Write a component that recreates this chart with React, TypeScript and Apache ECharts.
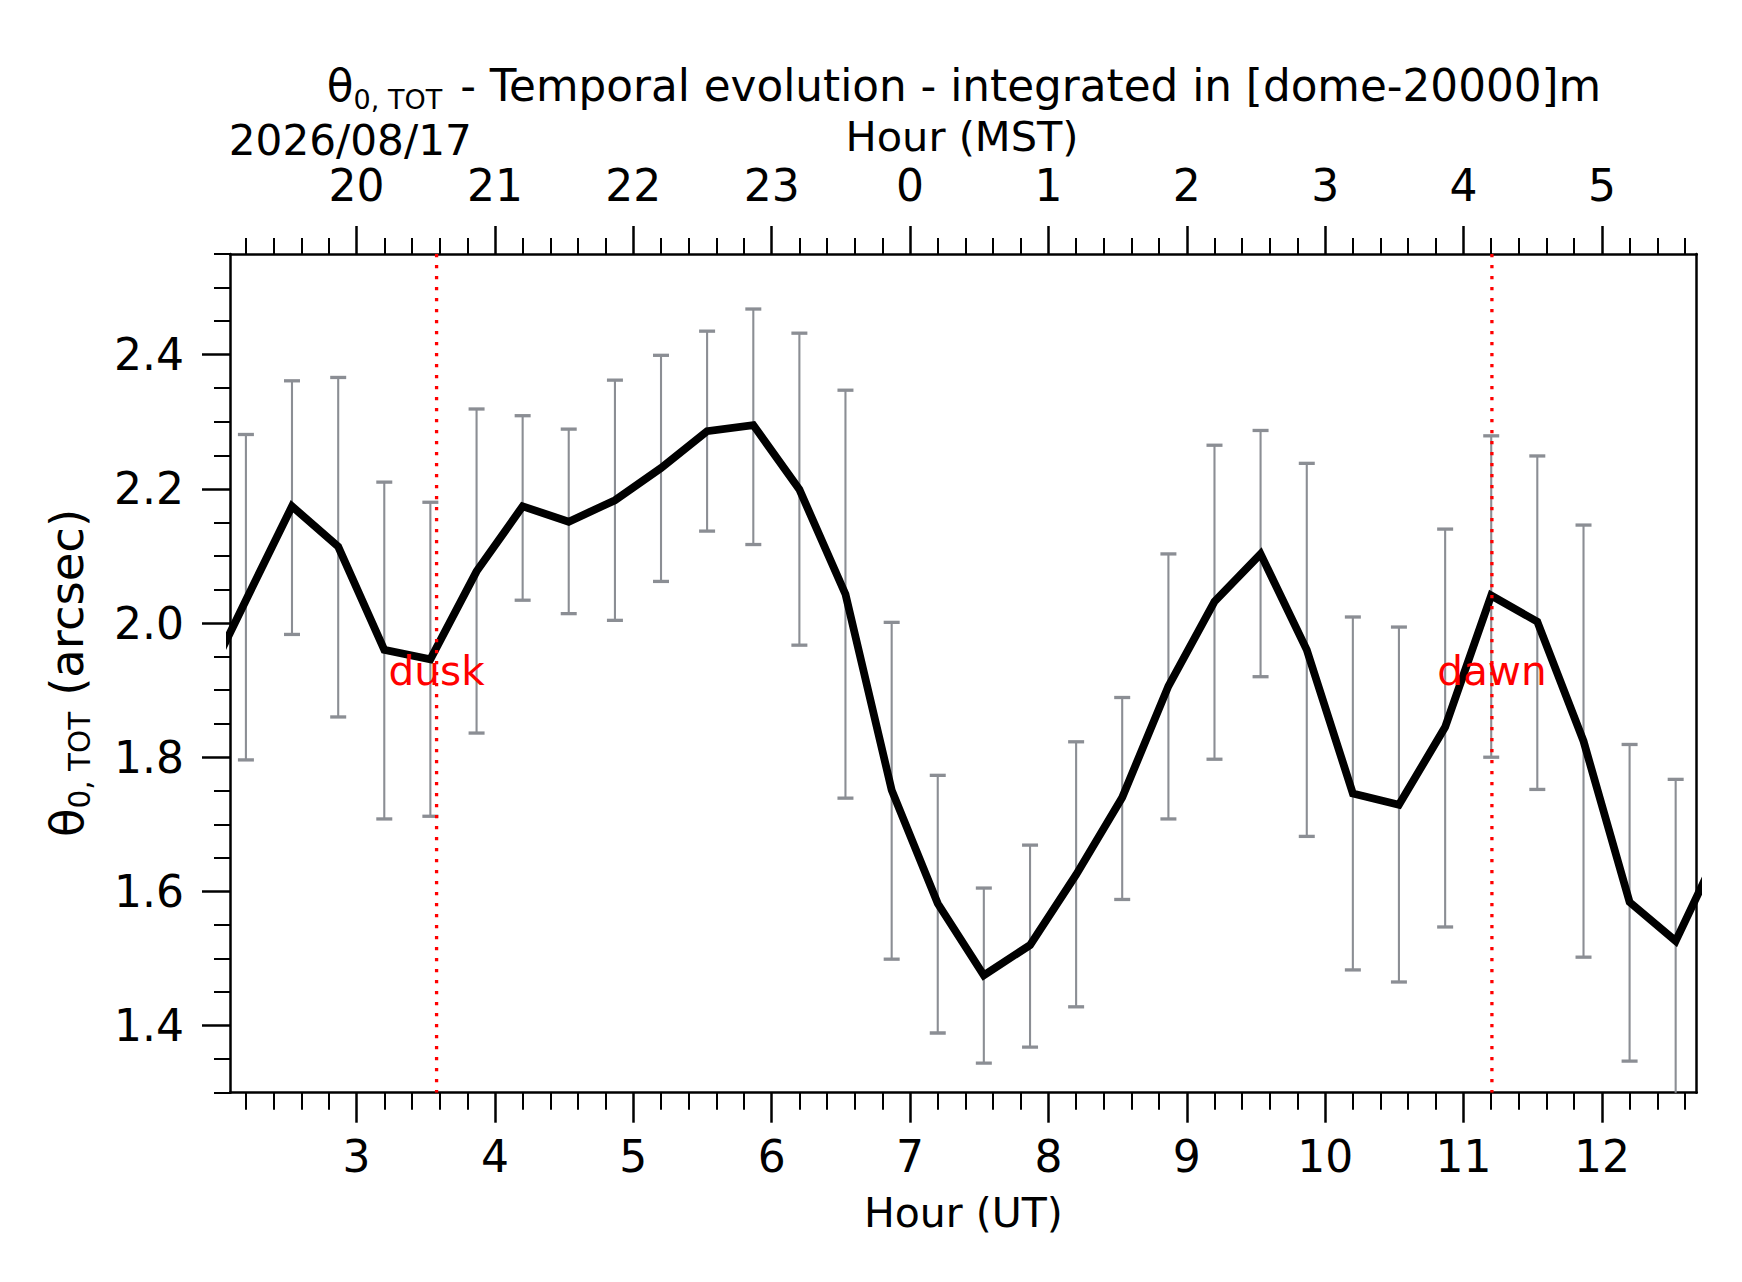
import { useEffect, useRef } from 'react'
import * as echarts from 'echarts'

const FONT = 'DejaVu Sans'
const ERR_COLOR = '#8b8e94'

// UT hour of each 20-minute sample (first and last fall just outside the axes)
const hoursUT = [
  1.867, 2.2, 2.533, 2.867, 3.2, 3.533, 3.867, 4.2, 4.533, 4.867, 5.2, 5.533,
  5.867, 6.2, 6.533, 6.867, 7.2, 7.533, 7.867, 8.2, 8.533, 8.867, 9.2, 9.533,
  9.867, 10.2, 10.533, 10.867, 11.2, 11.533, 11.867, 12.2, 12.533, 12.867
]
// theta_0,TOT (arcsec)
const theta0 = [
  1.893, 2.034, 2.174, 2.114, 1.96, 1.946, 2.077, 2.174, 2.151, 2.183, 2.231, 2.286,
  2.295, 2.199, 2.043, 1.751, 1.582, 1.475, 1.52, 1.625, 1.74, 1.906, 2.032, 2.103,
  1.96, 1.746, 1.729, 1.845, 2.041, 2.002, 1.824, 1.584, 1.526, 1.671
]
// error bar ends for samples 1..32
const errHigh = [
  2.281, 2.361, 2.366, 2.21, 2.18, 2.319, 2.309, 2.289, 2.362, 2.399, 2.435, 2.468,
  2.432, 2.347, 2.001, 1.773, 1.605, 1.669, 1.823, 1.889, 2.103, 2.265, 2.287, 2.238,
  2.009, 1.994, 2.14, 2.279, 2.249, 2.146, 1.819, 1.767
]
const errLow = [
  1.796, 1.983, 1.86, 1.708, 1.712, 1.836, 2.034, 2.014, 2.004, 2.062, 2.137, 2.117,
  1.967, 1.739, 1.499, 1.389, 1.344, 1.368, 1.428, 1.588, 1.708, 1.797, 1.92, 1.682,
  1.483, 1.465, 1.547, 1.8, 1.752, 1.502, 1.347, 1.28
]

const eventNames = ['dusk', 'dawn']
const eventHours = [3.578, 11.205]
const eventLabelY = 1.928

const utTicks = [3, 4, 5, 6, 7, 8, 9, 10, 11, 12]
const mstLabels = ['20', '21', '22', '23', '0', '1', '2', '3', '4', '5']
const yTicks = [1.4, 1.6, 1.8, 2.0, 2.2, 2.4]

const X_MIN = 2.085
const X_MAX = 12.685
const Y_MIN = 1.3
const Y_MAX = 2.55

function minorTicks(from: number, to: number, step: number, majors: number[]) {
  const out: number[] = []
  const n = Math.round((to - from) / step)
  for (let i = 0; i <= n; i++) {
    const v = Math.round((from + i * step) * 1000) / 1000
    if (!majors.some(m => Math.abs(m - v) < 1e-6)) out.push(v)
  }
  return out
}

const xMinor = minorTicks(2.2, 12.6, 0.2, utTicks)
const yMinor = minorTicks(1.3, 2.55, 0.05, yTicks)

const black = { color: '#000', width: 2.5 }
const tickFont = { fontSize: 44, fontFamily: FONT, color: '#000' }

// main text + lowered subscript, for the title and the y label
function subRich(size: number, lineHeight: number, subSize: number, gap: number) {
  return {
    m: { fontSize: size, fontFamily: FONT, lineHeight, fill: '#000' },
    s: {
      fontSize: subSize, fontFamily: FONT, lineHeight: subSize, fill: '#000',
      verticalAlign: 'bottom', textVerticalAlign: 'bottom', padding: [0, gap, 0, 0]
    }
  }
}

function buildOption(): echarts.EChartsOption {
  const errData = errHigh.map((hi, i) => [hoursUT[i + 1], errLow[i], hi])
  const lineData = hoursUT.map((h, i) => [h, theta0[i]])
  const eventData = eventHours.map(h => [h, eventLabelY])

  return {
    animation: false,
    backgroundColor: '#fff',
    grid: { left: 230, top: 254, width: 1466.7, height: 838.7, containLabel: false },
    xAxis: [
      {
        type: 'value', position: 'bottom', min: X_MIN, max: X_MAX,
        axisLine: { show: true, lineStyle: black },
        axisTick: { show: true, customValues: utTicks, length: 30, lineStyle: black },
        axisLabel: {
          show: true, customValues: utTicks, margin: 42, ...tickFont,
          formatter: (v: number) => String(Math.round(v))
        },
        splitLine: { show: false },
        name: 'Hour (UT)', nameLocation: 'middle', nameGap: 100,
        nameTextStyle: { fontSize: 41, fontFamily: FONT, color: '#000' }
      },
      {
        type: 'value', position: 'bottom', min: X_MIN, max: X_MAX,
        axisLine: { show: false },
        axisTick: { show: true, customValues: xMinor, length: 17, lineStyle: { color: '#000', width: 2 } },
        axisLabel: { show: false },
        splitLine: { show: false }
      },
      {
        type: 'value', position: 'top', min: X_MIN, max: X_MAX,
        axisLine: { show: true, lineStyle: black },
        axisTick: { show: true, customValues: utTicks, length: 28, lineStyle: black },
        axisLabel: {
          show: true, customValues: utTicks, margin: 47, ...tickFont,
          formatter: (v: number) => mstLabels[utTicks.indexOf(Math.round(v))] ?? ''
        },
        splitLine: { show: false }
      },
      {
        type: 'value', position: 'top', min: X_MIN, max: X_MAX,
        axisLine: { show: false },
        axisTick: { show: true, customValues: xMinor, length: 16, lineStyle: { color: '#000', width: 2 } },
        axisLabel: { show: false },
        splitLine: { show: false }
      }
    ],
    yAxis: [
      {
        type: 'value', position: 'left', min: Y_MIN, max: Y_MAX,
        axisLine: { show: true, lineStyle: black },
        axisTick: { show: true, customValues: yTicks, length: 28, lineStyle: black },
        axisLabel: {
          show: true, customValues: yTicks, margin: 46, ...tickFont,
          formatter: (v: number) => v.toFixed(1)
        },
        splitLine: { show: false }
      },
      {
        type: 'value', position: 'left', min: Y_MIN, max: Y_MAX,
        axisLine: { show: false },
        axisTick: { show: true, customValues: yMinor, length: 16, lineStyle: { color: '#000', width: 2 } },
        axisLabel: { show: false },
        splitLine: { show: false }
      },
      {
        type: 'value', position: 'right', min: Y_MIN, max: Y_MAX,
        axisLine: { show: true, lineStyle: black },
        axisTick: { show: false },
        axisLabel: { show: false },
        splitLine: { show: false }
      }
    ],
    series: [
      {
        type: 'custom',
        name: 'error',
        xAxisIndex: 0,
        yAxisIndex: 0,
        clip: true,
        z: 2,
        encode: { x: 0, y: [1, 2] },
        data: errData,
        renderItem: (_params: any, api: any) => {
          const x = api.value(0)
          const top = api.coord([x, api.value(2)])
          const bottom = api.coord([x, api.value(1)])
          const cap = 8
          const capStyle = { stroke: ERR_COLOR, lineWidth: 3.3 }
          return {
            type: 'group',
            children: [
              { type: 'line', shape: { x1: top[0], y1: top[1], x2: bottom[0], y2: bottom[1] }, style: { stroke: ERR_COLOR, lineWidth: 2.1 } },
              { type: 'line', shape: { x1: top[0] - cap, y1: top[1], x2: top[0] + cap, y2: top[1] }, style: capStyle },
              { type: 'line', shape: { x1: bottom[0] - cap, y1: bottom[1], x2: bottom[0] + cap, y2: bottom[1] }, style: capStyle }
            ]
          }
        }
      },
      {
        type: 'line',
        name: 'theta0',
        xAxisIndex: 0,
        yAxisIndex: 0,
        data: lineData,
        showSymbol: false,
        symbol: 'none',
        clip: true,
        z: 3,
        lineStyle: { color: '#000', width: 7.8, join: 'miter' }
      },
      {
        type: 'custom',
        name: 'events',
        xAxisIndex: 0,
        yAxisIndex: 0,
        clip: true,
        z: 4,
        encode: { x: 0, y: 1 },
        data: eventData,
        renderItem: (params: any, api: any) => {
          const x = api.value(0)
          const top = api.coord([x, Y_MAX])
          const bottom = api.coord([x, Y_MIN])
          const lab = api.coord([x, api.value(1)])
          return {
            type: 'group',
            children: [
              {
                type: 'line',
                shape: { x1: top[0], y1: top[1], x2: bottom[0], y2: bottom[1] },
                style: { stroke: '#ff0000', lineWidth: 3.3, lineDash: [3.3, 7.7] }
              },
              {
                type: 'text',
                x: lab[0],
                y: lab[1],
                style: {
                  text: eventNames[params.dataIndex],
                  fill: '#ff0000', textFill: '#ff0000',
                  fontSize: 40.6, fontFamily: FONT,
                  align: 'center', verticalAlign: 'middle',
                  textAlign: 'center', textVerticalAlign: 'middle'
                }
              }
            ]
          }
        }
      }
    ],
    graphic: [
      {
        type: 'text',
        x: 964,
        y: 85,
        style: {
          text: '{m|θ}{s|0, TOT}{m|- Temporal evolution - integrated in [dome-20000]m}',
          rich: subRich(43.7, 55, 27, 18),
          align: 'center', verticalAlign: 'middle',
          textAlign: 'center', textVerticalAlign: 'middle'
        } as any
      },
      {
        type: 'text',
        x: 228.7,
        y: 140.7,
        style: {
          text: '2026/08/17', fontSize: 42.2, fontFamily: FONT, fill: '#000',
          align: 'left', verticalAlign: 'middle', textAlign: 'left', textVerticalAlign: 'middle'
        } as any
      },
      {
        type: 'text',
        x: 962,
        y: 136.5,
        style: {
          text: 'Hour (MST)', fontSize: 41.5, fontFamily: FONT, fill: '#000',
          align: 'center', verticalAlign: 'middle', textAlign: 'center', textVerticalAlign: 'middle'
        } as any
      },
      {
        type: 'text',
        x: 67,
        y: 673,
        rotation: Math.PI / 2,
        style: {
          text: '{m|θ}{s|0, TOT}{m|(arcsec)}',
          rich: subRich(46.5, 55, 29.5, 16),
          align: 'center', verticalAlign: 'middle',
          textAlign: 'center', textVerticalAlign: 'middle'
        } as any
      }
    ]
  }
}

export default function App() {
  const chartRef = useRef<HTMLDivElement>(null)

  useEffect(() => {
    const host = chartRef.current
    if (!host) return
    const chart = echarts.init(host, null, { renderer: 'svg' })
    chart.setOption(buildOption())
    return () => {
      chart.dispose()
    }
  }, [])

  return (
    <div
      ref={chartRef}
      style={{ position: 'absolute', left: 0, top: 0, width: 1742, height: 1282, background: '#fff' }}
    />
  )
}
